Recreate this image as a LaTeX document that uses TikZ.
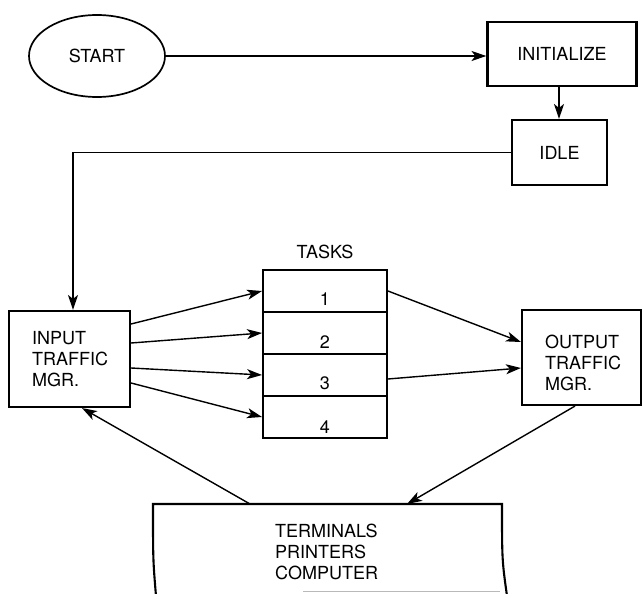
\documentclass[tikz,border=0pt]{standalone}
\usepackage{fontspec}
\setmainfont{TeX Gyre Heros}
\usetikzlibrary{arrows.meta,calc,shapes.geometric}

\tikzset{
  box/.style={draw, line width=2.1pt, rectangle, inner sep=0pt},
  oval/.style={draw, line width=1.7pt, ellipse, inner sep=0pt,
               minimum width=136, minimum height=82},
  taskbox/.style={draw, line width=1.9pt, rectangle, inner sep=0pt,
                  minimum width=124, minimum height=42},
  txt/.style={font=\fontsize{18}{21}\selectfont, align=left, inner sep=0pt},
  arr/.style={line width=1.4pt, -{Stealth[length=15pt,width=10pt,inset=4pt]}}
}

\begin{document}
\begin{tikzpicture}[x=1pt, y=-1pt, font=\fontsize{18}{21}\selectfont]
\useasboundingbox (0,0) rectangle (643,594);

% start and setup
\node[oval] (start) at (97,56) {START};
\node[box, minimum width=149, minimum height=64] (init) at (562,54) {INITIALIZE};
\node[box, minimum width=95, minimum height=65] (idle) at (559.5,152.5) {IDLE};

% traffic managers
\node[box, minimum width=121, minimum height=96] (in) at (69.5,359) {};
\node[txt, anchor=west] (intxt) at (32,359) {INPUT\\TRAFFIC\\MGR.};
\node[box, minimum width=119, minimum height=95] (out) at (581.5,357.5) {};
\node[txt, anchor=west] (outtxt) at (545,363) {OUTPUT\\TRAFFIC\\MGR.};

% task table
\node (tasks) at (325,252) {TASKS};
\node[taskbox] (t1) at (325,291) {};
\node[taskbox] (t2) at (325,333) {};
\node[taskbox] (t3) at (325,375) {};
\node[taskbox] (t4) at (325,417) {};
\node[yshift=-8pt] (n1) at (t1) {1};
\node[yshift=-9pt] (n2) at (t2) {2};
\node[yshift=-8pt] (n3) at (t3) {3};
\node[yshift=-10pt] (n4) at (t4) {4};

% devices (open at the bottom)
\draw[line width=2.1pt] (156,596) .. controls (153,560) .. (153,504)
  -- (502,504) .. controls (502,560) .. (507,596);
\draw[gray!55, line width=0.8pt] (303,591) -- (500,591);
\node[txt, anchor=west] (dev) at (275,552) {TERMINALS\\PRINTERS\\COMPUTER};
\coordinate (devin) at (407,504);
\coordinate (devout) at (250,504);

% control flow
\draw[arr] (start.east) -- (start.east -| init.west);
\draw[arr] ([xshift=-3pt]init.south) -- ([xshift=-3pt]init.south |- idle.north);
\draw[arr] (idle.west) -| ([xshift=3.5pt]in.north);

% input manager to tasks
\draw[arr] ($(in.east)+(0,-35)$) -- (t1.west);
\draw[arr] ($(in.east)+(0,-16)$) -- (t2.west);
\draw[arr] ($(in.east)+(0,9)$) -- (t3.west);
\draw[arr] ($(in.east)+(0,24)$) -- (t4.west);

% tasks to output manager
\draw[arr] (t1.east) -- ($(out.west)+(0,-15.5)$);
\draw[arr] ($(t3.east)+(0,4)$) -- ($(out.west)+(0,10.5)$);

% device loop
\draw[arr] ([xshift=-6.5pt]out.south) -- (devin);
\draw[arr] (devout) -- ([xshift=12.5pt]in.south);
\end{tikzpicture}
\end{document}
